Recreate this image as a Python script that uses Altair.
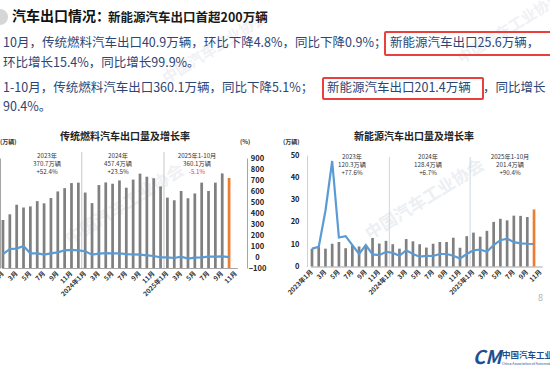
import json
import altair as alt
import pandas as pd

FONT = "Noto Sans CJK SC"

# ---------------- data ----------------
month_keys = [
    "2023-01", "2023-02", "2023-03", "2023-04", "2023-05", "2023-06",
    "2023-07", "2023-08", "2023-09", "2023-10", "2023-11", "2023-12",
    "2024-01", "2024-02", "2024-03", "2024-04", "2024-05", "2024-06",
    "2024-07", "2024-08", "2024-09", "2024-10", "2024-11", "2024-12",
    "2025-01", "2025-02", "2025-03", "2025-04", "2025-05", "2025-06",
    "2025-07", "2025-08", "2025-09", "2025-10", "2025-11",
]
x_tick_labels = [
    "2023年1月", "", "3月", "", "5月", "", "7月", "", "9月", "", "11月", "",
    "2024年1月", "", "3月", "", "5月", "", "7月", "", "9月", "", "11月", "",
    "2025年1月", "", "3月", "", "5月", "", "7月", "", "9月", "", "11月",
]
data_months = month_keys[:34]

# 传统燃料汽车出口量（万辆）及同比增长率（%）
fuel_export = [
    21.8, 24.4, 28.7, 27.5, 28.0, 30.4, 29.4, 31.8, 34.8, 36.3, 38.6, 38.8,
    34.3, 29.5, 37.7, 38.9, 38.3, 39.8, 36.5, 40.2, 42.9, 41.5, 40.8, 37.1,
    32.0, 30.8, 35.0, 31.7, 33.9, 38.8, 35.0, 38.8, 43.0, 40.9,
]
fuel_growth = [
    27, 73, 76, 100, 33, 33, 21, 33, 42, 61, 64, 61,
    52, 21, 30, 36, 33, 33, 27, 24, 21, 15, 9, -3,
    -3, -9, 3, -15, -6, -3, 3, 3, 6, -1,
]
# 新能源汽车出口量（万辆）及增长率
nev_export = [
    8.0, 9.0, 8.0, 10.2, 11.0, 8.2, 9.5, 9.0, 9.6, 12.8, 10.3, 11.5,
    10.0, 8.0, 12.3, 11.3, 10.0, 8.5, 10.2, 11.0, 11.0, 12.9, 8.4, 13.6,
    15.2, 13.4, 16.0, 20.0, 21.4, 20.7, 22.8, 22.7, 22.2, 25.6,
]
nev_growth = [
    8.0, 8.8, 25.0, 47.3, 13.0, 13.6, 9.6, 5.6, 9.6, 5.4, 5.1, 6.6,
    6.1, 4.8, 7.3, 5.6, 4.4, 4.8, 4.7, 5.6, 5.6, 4.8, 3.6, 5.6,
    7.3, 7.6, 6.6, 9.6, 11.8, 12.5, 10.9, 10.4, 10.2, 10.1,
]
separator_months = ["2024-01", "2025-01"]
highlight_month = "2025-10"

fuel_note_year = ["2023年", "2024年", "2025年1-10月"]
fuel_note_total = ["370.7万辆", "457.4万辆", "360.1万辆"]
fuel_note_rate = ["+52.4%", "+23.5%", "-5.1%"]
nev_note_year = ["2023年", "2024年", "2025年1-10月"]
nev_note_total = ["120.3万辆", "128.4万辆", "201.4万辆"]
nev_note_rate = ["+77.6%", "+6.7%", "+90.4%"]

fuel_ticks = [-100, 0, 100, 200, 300, 400, 500, 600, 700, 800, 900]
nev_ticks = [0, 10, 20, 30, 40, 50]

df_fuel = pd.DataFrame({"month": data_months, "export": fuel_export, "growth": fuel_growth})
df_nev = pd.DataFrame({"month": data_months, "export": nev_export, "growth": nev_growth})
df_sep = pd.DataFrame({"month": separator_months})
one = pd.DataFrame({"k": [0]})

GRAY = "#808080"
ORANGE = "#ED7D31"
BLUE = "#5B9BD5"
NAVY = "#2d4573"

label_expr = "{}[indexof({}, datum.value)]".format(
    json.dumps(x_tick_labels, ensure_ascii=False), json.dumps(month_keys)
)


def x_enc(rng, offset):
    axis = alt.Axis(
        orient="bottom", offset=offset, title=None, labelAngle=-45,
        labelAlign="right", labelBaseline="middle", labelExpr=label_expr,
        labelOverlap=False, ticks=False, tickSize=0, labelPadding=4,
        labelFont=FONT, labelFontSize=6.5, labelFontWeight="bold",
        labelColor="#333333", domainColor="#a6a6a6", grid=False,
    )
    return alt.X(
        "month:N",
        scale=alt.Scale(domain=month_keys, range=rng, paddingInner=0.6, paddingOuter=0),
        axis=axis,
    )


bar_color = alt.when(alt.datum.month == highlight_month).then(alt.value(ORANGE)).otherwise(alt.value(GRAY))


# ---------------- helpers for texts ----------------
def label(text, x, y, size, color="#222222", weight="normal", align="left", **kw):
    return alt.Chart(one).mark_text(
        text=text, align=align, baseline="middle", font=FONT, fontSize=size,
        fontWeight=weight, color=color, **kw
    ).encode(x=alt.value(x), y=alt.value(y))


def box(x1, x2, y1, y2):
    return alt.Chart(one).mark_rect(fillOpacity=0, stroke="#e8413c", strokeWidth=2, cornerRadius=1).encode(
        x=alt.value(x1), x2=alt.value(x2), y=alt.value(y1), y2=alt.value(y2)
    )


# faint watermarks (drawn first, underneath everything)
watermarks = [
    label("中国汽车工业协会", 425, 200, 17, "#eceff3", "bold", "center", angle=328),
    label("中国汽车工业协会", 125, 205, 17, "#f0f1f4", "bold", "center", angle=328),
    label("中国汽车工业协会", 215, 48, 15, "#f0f1f4", "bold", "center", angle=328),
    label("中国汽车工业协会", 510, 28, 15, "#f0f1f4", "bold", "center", angle=328),
]

# ---------------- left chart: 传统燃料 ----------------
L_RANGE = [1.6, 237.3]
L_BOTTOM, L_TOP = 268, 158

left_seps = alt.Chart(df_sep).mark_rule(color="#c8c8c8", strokeWidth=1, xOffset=-3.42).encode(
    x=x_enc(L_RANGE, -110), y=alt.value(152), y2=alt.value(L_BOTTOM)
)
left_bars = alt.Chart(df_fuel).mark_bar().encode(
    x=x_enc(L_RANGE, -110),
    y=alt.Y("export:Q", scale=alt.Scale(domain=[0, 50], range=[L_BOTTOM, L_TOP], nice=False),
            axis=alt.Axis(orient="left", labels=False, ticks=False, grid=False, title=None,
                          domainColor="#a6a6a6")),
    color=bar_color,
)
left_line = alt.Chart(df_fuel).mark_line(color=BLUE, strokeWidth=2.2).encode(
    x=x_enc(L_RANGE, -110),
    y=alt.Y("growth:Q", scale=alt.Scale(domain=[-100, 900], range=[L_BOTTOM, L_TOP], nice=False, zero=False),
            axis=alt.Axis(orient="right", offset=-303, values=fuel_ticks, ticks=False, tickSize=0,
                          labelPadding=10, labelAlign="center", labelFlush=False, labelFont=FONT,
                          labelFontSize=7.5, labelFontWeight="bold", labelColor="#222222",
                          domainColor="#a6a6a6", grid=False, title=None)),
)
left = alt.layer(left_seps, left_bars, left_line).resolve_scale(y="independent")

# ---------------- right chart: 新能源 ----------------
R_RANGE = [310.65, 542.1]
R_BOTTOM, R_TOP = 266.5, 155

right_seps = alt.Chart(df_sep).mark_rule(color="#cdd6e0", strokeWidth=1, xOffset=-3.36).encode(
    x=x_enc(R_RANGE, -111.5), y=alt.value(157), y2=alt.value(R_BOTTOM)
)
right_bars = alt.Chart(df_nev).mark_bar().encode(
    x=x_enc(R_RANGE, -111.5),
    y=alt.Y("export:Q", scale=alt.Scale(domain=[0, 50], range=[R_BOTTOM, R_TOP], nice=False),
            axis=alt.Axis(orient="left", offset=-307, values=nev_ticks, ticks=False, tickSize=0,
                          labelPadding=8, labelFlush=False, labelFont=FONT, labelFontSize=7.5,
                          labelFontWeight="bold", labelColor="#222222", domainColor="#d0d0d0",
                          grid=False, title=None)),
    color=bar_color,
)
right_line = alt.Chart(df_nev).mark_line(color=BLUE, strokeWidth=2.2).encode(
    x=x_enc(R_RANGE, -111.5),
    y=alt.Y("growth:Q", scale=alt.Scale(domain=[0, 50], range=[R_BOTTOM, R_TOP], nice=False), axis=None),
)
right = alt.layer(right_seps, right_bars, right_line).resolve_scale(y="independent")

# ---------------- texts ----------------
dot = alt.Chart(one).mark_point(shape="circle", filled=True, size=260, color="#d6d6d6", opacity=1).encode(
    x=alt.value(0), y=alt.value(17)
)

texts = [
    dot,
    label("汽车出口情况：", 12, 17, 14, "#111111", "bold"),
    label("新能源汽车出口首超200万辆", 108, 17.5, 12.5, "#1a1a1a", "bold"),
    label("10月，传统燃料汽车出口40.9万辆，环比下降4.8%，同比下降0.9%；", 3, 43, 12.5, NAVY),
    label("新能源汽车出口25.6万辆，", 390, 43, 12.5, NAVY),
    box(385, 560, 32, 55),
    label("环比增长15.4%，同比增长99.9%。", 3, 63, 12.5, NAVY),
    label("1-10月，传统燃料汽车出口360.1万辆，同比下降5.1%；", 3, 88, 12.5, NAVY),
    label("新能源汽车出口201.4万辆", 327, 88, 12.5, NAVY),
    box(323, 483, 78, 99),
    label("，同比增长", 483, 88, 12.5, NAVY),
    label("90.4%。", 3, 107, 12.5, NAVY),
    label("传统燃料汽车出口量及增长率", 125, 137, 10, "#222222", "bold", "center"),
    label("新能源汽车出口量及增长率", 414, 137, 10, "#222222", "bold", "center"),
    label("(万辆)", 0, 142, 6, "#333333", "bold"),
    label("(%)", 240, 142, 6, "#333333", "bold"),
    label("(万辆)", 283, 142, 6, "#333333", "bold"),
    label("8", 538, 298, 9, "#b0b0b0"),
    label("CM", 487, 358, 19, "#1d4f91", "bold", "center", fontStyle="italic"),
    label("中国汽车工业协会", 502, 355, 8.5, "#1d4f91", "bold"),
    label("China Association of Automobile Manufacturers", 502, 364, 3.5, "#1d4f91"),
]

for cx, yr, tot, rt in zip([47, 118, 197], fuel_note_year, fuel_note_total, fuel_note_rate):
    texts.append(label(yr, cx, 156, 6.2, "#333333", align="center"))
    texts.append(label(tot, cx, 164, 6.2, "#333333", align="center"))
    texts.append(label(rt, cx, 172, 6.2, "#e8413c" if rt.startswith("-") else "#333333", align="center"))
for cx, yr, tot, rt in zip([352, 428, 510], nev_note_year, nev_note_total, nev_note_rate):
    texts.append(label(yr, cx, 157, 6.2, "#333333", align="center"))
    texts.append(label(tot, cx, 165, 6.2, "#333333", align="center"))
    texts.append(label(rt, cx, 173, 6.2, "#333333", align="center"))

chart = alt.layer(*watermarks, left, right, *texts).resolve_scale(x="independent", y="independent").properties(
    width=550, height=378, padding=0,
    autosize=alt.AutoSizeParams(type="none"),
    background="white",
).configure_view(stroke=None).configure_text(font=FONT)

chart.save("out.html", embed_options={"renderer": "svg", "actions": False})
